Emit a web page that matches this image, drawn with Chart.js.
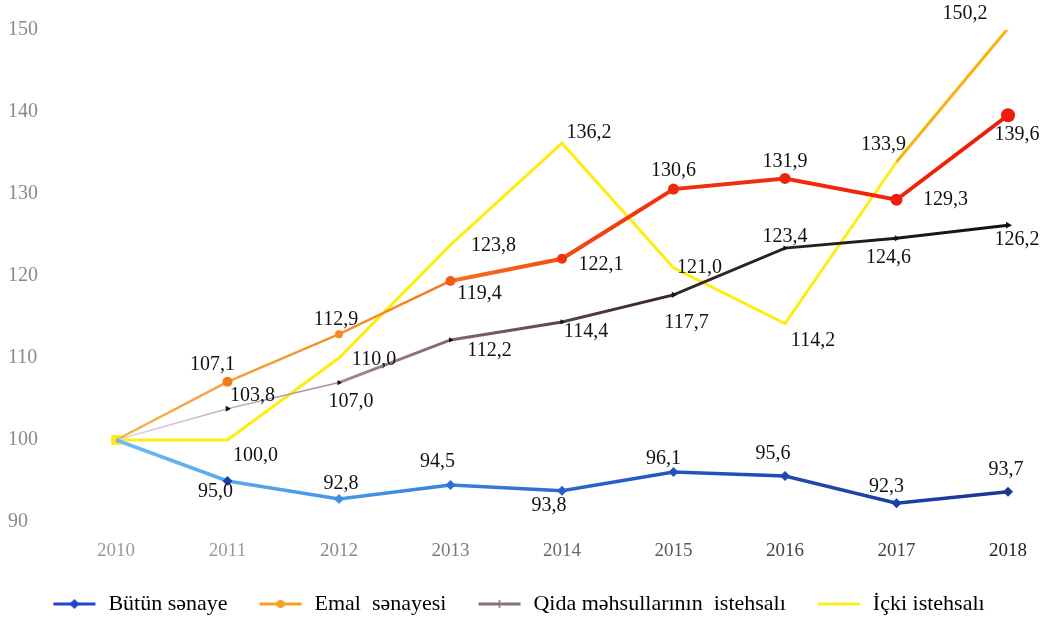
<!DOCTYPE html>
<html>
<head>
<meta charset="utf-8">
<script src="https://cdn.jsdelivr.net/npm/chart.js@4.4.1/dist/chart.umd.min.js"></script>
<style>
  html, body { margin: 0; padding: 0; background: #fff; }
  #wrap { width: 1050px; height: 618px; }
</style>
</head>
<body>
<div id="wrap"><canvas id="chart" width="1050" height="618"></canvas></div>
<script>
const years = ["2010", "2011", "2012", "2013", "2014", "2015", "2016", "2017", "2018"];
const butunSenaye = [100, 95.0, 92.8, 94.5, 93.8, 96.1, 95.6, 92.3, 93.7];
const emalSenayesi = [100, 107.1, 112.9, 119.4, 122.1, 130.6, 131.9, 129.3, 139.6];
const qidaIstehsali = [100, 103.8, 107.0, 112.2, 114.4, 117.7, 123.4, 124.6, 126.2];
const ickiIstehsali = [100, 100.0, 110.0, 123.8, 136.2, 121.0, 114.2, 133.9, 150.2];
const seriesNames = ["Bütün sənaye", "Emal  sənayesi", "Qida məhsullarının  istehsalı", "İçki istehsalı"];

// where each value label sits relative to its point (dx, dy); null = no label
const labelOffsets = [
  [null, [-12, 11], [2, -15], [-13, -23], [-13, 15], [-10, -13], [-12, -22], [-10, -16], [-2, -22]],
  [null, [-15, -17], [-3, -14], [29, 13], [39, 6], [0, -18], [0, -17], [49, 0], [9, 19]],
  [null, [25, -13], [12, 19], [39, 11], [24, 10], [13, 28], [0, -11], [-8, 19], [9, 15]],
  [null, [28, 16], [35, 2], [43, 1], [27, -10], [26, 0], [28, 17], [-13, -17], [-43, -15]]
];

const serif = "'Liberation Serif', 'DejaVu Serif', serif";

function grad(ctx, stops, fallback) {
  const area = ctx.chart.chartArea;
  if (!area) return fallback;
  const g = ctx.chart.ctx.createLinearGradient(area.left, 0, area.right, 0);
  stops.forEach(s => g.addColorStop(s[0], s[1]));
  return g;
}

const blueStops = [[0, "#6bbcf5"], [0.3, "#3f8fe0"], [0.6, "#2357c0"], [1, "#1a3596"]];
const emalStops = [[0, "#f7b04a"], [0.3, "#f58a26"], [0.45, "#f45a18"], [0.6, "#f2320f"], [1, "#ee1c0a"]];
const qidaStops = [[0, "#ead2e2"], [0.35, "#8c6c78"], [0.6, "#3a2a2a"], [1, "#111111"]];

// legend icon: blank space on the left acts as the gap between items
function legendIcon(color, marker) {
  const c = document.createElement("canvas");
  c.width = 66; c.height = 12;
  const x = c.getContext("2d");
  x.strokeStyle = color; x.lineWidth = 3;
  x.beginPath(); x.moveTo(22, 6); x.lineTo(64, 6); x.stroke();
  x.fillStyle = color;
  if (marker === "diamond") {
    x.beginPath(); x.moveTo(43, 1); x.lineTo(48, 6); x.lineTo(43, 11); x.lineTo(38, 6); x.closePath(); x.fill();
  } else if (marker === "circle") {
    x.beginPath(); x.arc(43, 6, 4, 0, Math.PI * 2); x.fill();
  } else if (marker === "tick") {
    x.lineWidth = 1.5;
    x.beginPath(); x.moveTo(43, 2); x.lineTo(43, 10); x.stroke();
  }
  return c;
}

const legendIcons = [
  legendIcon("#2147c8", "diamond"),
  legendIcon("#f7a21e", "circle"),
  legendIcon("#8a7078", "tick"),
  legendIcon("#ffee22", "none")
];

const valueLabels = {
  id: "valueLabels",
  afterDatasetsDraw(chart) {
    const ctx = chart.ctx;
    ctx.save();
    ctx.font = "20px " + serif;
    ctx.fillStyle = "#111";
    ctx.textAlign = "center";
    ctx.textBaseline = "middle";
    chart.data.datasets.forEach((ds, di) => {
      const meta = chart.getDatasetMeta(di);
      meta.data.forEach((pt, i) => {
        const off = labelOffsets[di][i];
        if (!off) return;
        const txt = ds.data[i].toFixed(1).replace(".", ",");
        ctx.fillText(txt, pt.x + off[0], pt.y + off[1]);
      });
    });
    ctx.restore();
  }
};

new Chart(document.getElementById("chart"), {
  type: "line",
  data: {
    labels: years,
    datasets: [
      {
        label: seriesNames[0],
        data: butunSenaye,
        borderColor: c => grad(c, blueStops, "#2f6fd0"),
        borderWidth: 3.5,
        pointStyle: "rectRot",
        pointRadius: [0, 5, 5, 5, 5, 5, 5, 5, 5],
        pointBackgroundColor: ["#6bbcf5", "#1f3fa8", "#3f8fe0", "#2f70d0", "#2a5ec8", "#2352bd", "#2148b0", "#1d3da2", "#1a3596"],
        pointBorderWidth: 0
      },
      {
        label: seriesNames[1],
        data: emalSenayesi,
        borderColor: c => grad(c, emalStops, "#f26a1a"),
        borderWidth: 3,
        segment: { borderWidth: s => (s.p0DataIndex < 3 ? 2.5 : 4) },
        pointStyle: "circle",
        pointRadius: [0, 5, 4, 5, 5, 5.5, 5.5, 6, 7],
        pointBackgroundColor: ["#f7b04a", "#f27c1c", "#f58a26", "#f25a18", "#f2320f", "#ee2a0c", "#ee240a", "#ee200a", "#ee1c0a"],
        pointBorderWidth: 0
      },
      {
        label: seriesNames[2],
        data: qidaIstehsali,
        borderColor: c => grad(c, qidaStops, "#444"),
        borderWidth: 2.5,
        segment: { borderWidth: s => (s.p0DataIndex < 2 ? 1.5 : 3) },
        pointStyle: "triangle",
        rotation: 90,
        pointRadius: [0, 3.5, 3, 3, 3, 3.5, 3, 3.5, 4],
        pointBackgroundColor: "#111",
        pointBorderWidth: 0
      },
      {
        label: seriesNames[3],
        data: ickiIstehsali,
        borderColor: "#ffec12",
        borderWidth: 3,
        segment: { borderColor: s => (s.p0DataIndex === 7 ? "#f6b40c" : undefined) },
        pointRadius: [7, 0, 0, 0, 0, 0, 0, 0, 0],
        pointStyle: "rect",
        pointBackgroundColor: "#ffec12",
        pointBorderWidth: 0
      }
    ]
  },
  options: {
    responsive: false,
    animation: false,
    layout: { padding: { left: 8, right: 42, top: 30, bottom: -7 } },
    scales: {
      x: {
        grid: { display: false, drawTicks: false },
        border: { display: false },
        ticks: {
          padding: 18,
          color: ["#9a9a9a", "#9a9a9a", "#8a8a8a", "#7a7a7a", "#6a6a6a", "#5a5a5a", "#444", "#444", "#222"],
          font: { family: serif, size: 19 }
        },
        afterFit: s => { s.height = 103 - (s.chart.legend ? s.chart.legend.height : 0); }
      },
      y: {
        min: 90,
        max: 150,
        grid: { display: false, drawTicks: false },
        border: { display: false },
        ticks: {
          stepSize: 10,
          crossAlign: "far",
          color: "#8a8a8a",
          font: { family: serif, size: 20 }
        },
        afterFit: s => { s.width = 108; }
      }
    },
    plugins: {
      legend: {
        position: "bottom",
        labels: {
          usePointStyle: true,
          pointStyleWidth: 66,
          padding: 10,
          color: "#111",
          font: { family: serif, size: 22 },
          generateLabels: chart => chart.data.datasets.map((ds, i) => ({
            text: ds.label,
            pointStyle: legendIcons[i],
            datasetIndex: i,
            hidden: false,
            lineWidth: 0,
            strokeStyle: "transparent",
            fillStyle: "transparent"
          }))
        }
      },
      tooltip: { enabled: false }
    }
  },
  plugins: [valueLabels]
});
</script>
</body>
</html>
